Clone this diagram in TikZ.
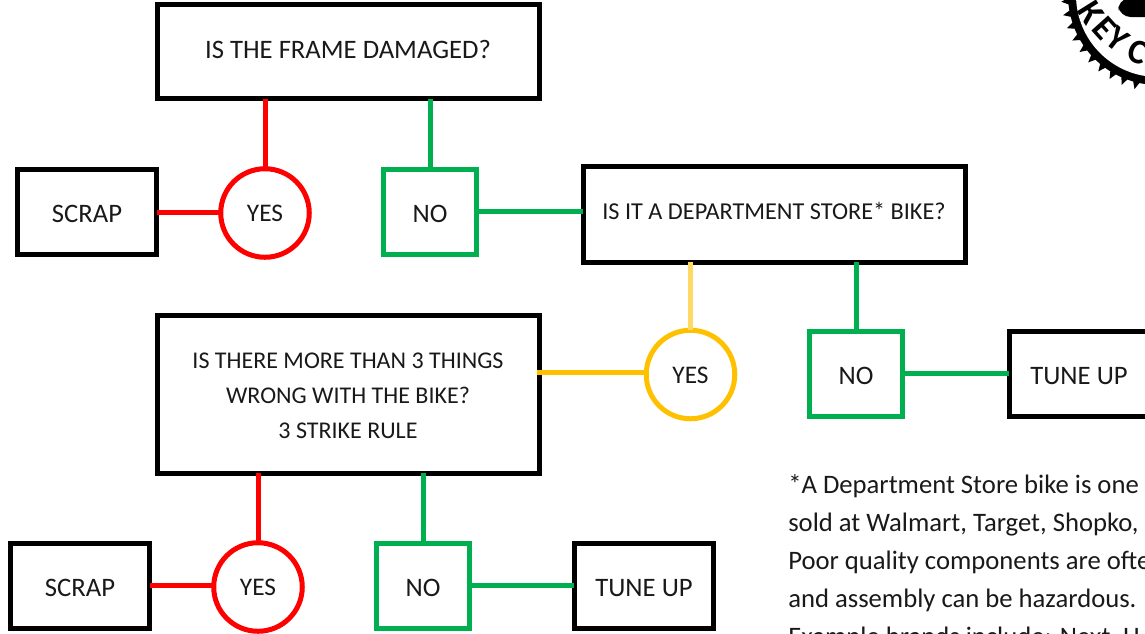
\documentclass[tikz,border=0pt]{standalone}
\usepackage{fontspec}
\setmainfont{Carlito}
\tikzstyle{box} = [rectangle, draw=black, line width=3.75pt, outer sep=0pt, text centered, text=black!90, font=\fontsize{20}{26.25}\selectfont, align=center]
\tikzstyle{box_wide} = [box, minimum width=286.5pt]
\tikzstyle{box_no} = [box, draw=boxgreen, minimum width=69.4pt, minimum height=64pt, text height=18pt, text depth=2pt]
\tikzstyle{box_end} = [box, minimum width=104.5pt, minimum height=64pt, text height=18pt, text depth=2pt]
\tikzstyle{circ} = [circle, draw=boxred, line width=3.75pt, outer sep=0pt, minimum size=66.4pt, inner sep=0pt, text=black!90, font=\fontsize{19}{24}\selectfont, text height=15pt, text depth=2pt]
\tikzstyle{link} = [line width=3.75pt]
\tikzstyle{logo_letter} = [inner sep=0pt, font=\bfseries\fontsize{26}{26}\selectfont]
\definecolor{boxred}{HTML}{FF0000}
\definecolor{boxgreen}{HTML}{00B050}
\definecolor{boxamber}{HTML}{FFC000}
\definecolor{boxpale}{HTML}{FFD966}
\begin{document}
\begin{tikzpicture}[x=0.75pt, y=-0.75pt]
		\path [use as bounding box, clip] (0,0) rectangle (1145,633);

		\node (frame) [box_wide, minimum height=70.5pt, text height=12.6pt, text depth=2pt] at (348,51.5) {IS THE FRAME DAMAGED?};
		\node (scrap_a) [box_end] at (87,212) {SCRAP};
		\node (yes_a) [circ] at (265,213) {YES};
		\node (no_a) [box_no] at (430,212) {NO};
		\node (dept) [box_wide, minimum height=72pt, font=\fontsize{18.2}{20}\selectfont, text height=10.5pt, text depth=2pt] at (774,214) {IS IT A DEPARTMENT STORE* BIKE?};
		\node (three) [box_wide, minimum height=118.5pt, font=\fontsize{18}{26.25}\selectfont] at (348,394) {\rule{0pt}{15pt}IS THERE MORE THAN 3 THINGS\\WRONG WITH THE BIKE?\\3 STRIKE RULE};
		\node (yes_b) [circ, draw=boxamber, text height=16pt] at (690.5,374.5) {YES};
		\node (no_b) [box_no] at (856,374) {NO};
		\node (tune_a) [box_end] at (1079,374) {TUNE UP};
		\node (scrap_b) [box_end] at (80,586) {SCRAP};
		\node (yes_c) [circ] at (258,587) {YES};
		\node (no_c) [box_no] at (423,586) {NO};
		\node (tune_b) [box_end] at (644,586) {TUNE UP};

		\draw [link, boxred] (yes_a.north) -- (yes_a.north |- frame.south);
		\draw [link, boxgreen] (no_a.north) -- (no_a.north |- frame.south);
		\draw [link, boxred] ([yshift=0.75pt]yes_a.west) -- ([yshift=0.75pt]scrap_a.east |- yes_a.west);
		\draw [link, boxgreen] ([yshift=2.25pt]dept.west) -- ([yshift=2.25pt]no_a.east |- dept.west);
		\draw [link, boxpale] (yes_b.north) -- (yes_b.north |- dept.south);
		\draw [link, boxgreen] (no_b.north) -- (no_b.north |- dept.south);
		\draw [link, boxamber] ([yshift=1.5pt]yes_b.west) -- ([xshift=-1.5pt, yshift=1.5pt]three.east |- yes_b.west);
		\draw [link, boxgreen] ([yshift=0.75pt]tune_a.west) -- ([yshift=0.75pt]no_b.east |- tune_a.west);
		\draw [link, boxred] (yes_c.north) -- (yes_c.north |- three.south);
		\draw [link, boxgreen] (no_c.north) -- (no_c.north |- three.south);
		\draw [link, boxred] ([yshift=1.5pt]yes_c.west) -- ([yshift=1.5pt]scrap_b.east |- yes_c.west);
		\draw [link, boxgreen] ([yshift=0.75pt]tune_b.west) -- ([yshift=0.75pt]no_c.east |- tune_b.west);

		\node (note) [anchor=north west, inner sep=0pt, align=left, text=black!90, font=\fontsize{20}{28.5}\selectfont] at (788,474) {*A Department Store bike is one\\sold at Walmart, Target, Shopko,\\Poor quality components are ofte\\and assembly can be hazardous.\\Example brands include: Next, H};

		% logo in the corner
		\begin{scope}[shift={(1158,-5)}]
			\fill [black] (60:90) \foreach \a in {60,68,...,196} { -- (\a+2:90) -- (\a+4:97) -- (\a+6:90) } -- cycle;
			\fill [white] (0,0) circle [radius=82];
			\node (logo_k) [logo_letter, rotate=-58] at (-67,18) {K};
			\node (logo_e) [logo_letter, rotate=-48] at (-54,33) {E};
			\node (logo_y) [logo_letter, rotate=-38] at (-40,44) {Y};
			\node (logo_c) [logo_letter, rotate=-20] at (-20,57) {C};
			\fill [black, rounded corners=8] (-41,5) -- (-38,22) -- (-13,22) -- (0,22) -- (0,0) -- cycle;
		\end{scope}
\end{tikzpicture}
\end{document}
